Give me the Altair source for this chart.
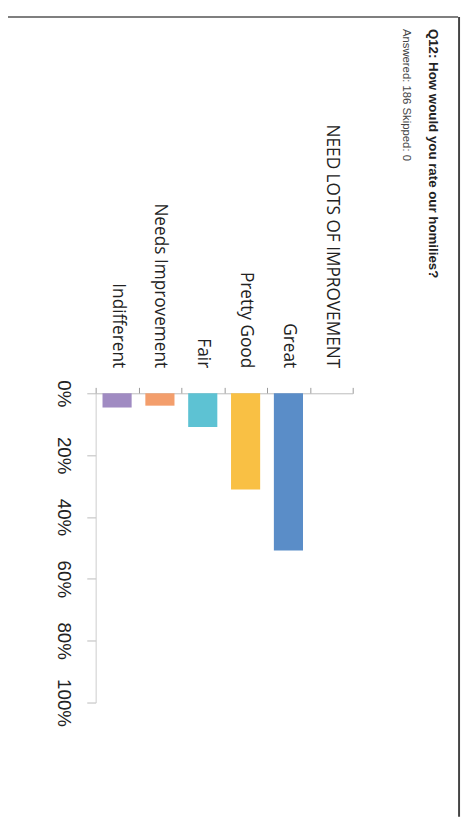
import altair as alt
import pandas as pd

# ---- data ----
categories = ["Indifferent", "Needs Improvement", "Fair", "Pretty Good", "Great",
              "NEED LOTS OF IMPROVEMENT"]
percents = [4.6, 4.0, 10.9, 31.1, 50.8, 0.0]
bar_colors = ["#a08bc2", "#f39e6c", "#5dc2d3", "#f9c044", "#5a8dc8", "#8cb36a"]
tick_values = [0, 20, 40, 60, 80, 100]
title_text = "Q12: How would you rate our homilies?"
subtitle_text = "Answered: 186   Skipped: 0"

df = pd.DataFrame({"category": categories, "percent": percents, "color": bar_colors})

bars = alt.Chart(df).mark_bar(width=alt.RelativeBandSize(0.68)).encode(
    x=alt.X(
        "category:N",
        sort=categories,
        scale=alt.Scale(paddingInner=0, paddingOuter=0),
        axis=alt.Axis(
            orient="top", title=None, labelAngle=90, labelAlign="right",
            labelBaseline="middle", labelFont="Open Sans", labelFontSize=17.5,
            labelColor="#222222", labelPadding=20, labelLimit=400,
            tickBand="extent", tickSize=6, tickColor="#999999",
            domainColor="#bbbbbb", grid=False,
        ),
    ),
    y=alt.Y(
        "percent:Q",
        scale=alt.Scale(domain=[0, 100], reverse=True, nice=False),
        axis=alt.Axis(
            values=tick_values, labelExpr="datum.value + '%'", title=None,
            labelAngle=90, labelAlign="center", labelBaseline="top",
            labelFont="Liberation Sans", labelFontSize=19, labelColor="#222222",
            labelPadding=15, tickSize=9, tickColor="#bbbbbb",
            domainColor="#cccccc", grid=False,
        ),
    ),
    color=alt.Color("color:N", scale=None, legend=None),
)

frame_df = pd.DataFrame({"k": [0]})
top_line = alt.Chart(frame_df).mark_rule(color="#555555", strokeWidth=1.5).encode(
    x=alt.value(-89), x2=alt.value(368), y=alt.value(-382)
)
right_line = alt.Chart(frame_df).mark_rule(color="#444444", strokeWidth=2).encode(
    x=alt.value(369), y=alt.value(-382), y2=alt.value(430)
)

chart = alt.layer(top_line, right_line, bars).properties(
    width=261,
    height=314,
    autosize=alt.AutoSizeParams(type="none"),
    padding={"left": 89, "top": 385, "right": 112, "bottom": 110},
    background="white",
    title=alt.TitleParams(
        text=title_text,
        subtitle=subtitle_text,
        orient="right",
        anchor="start",
        frame="group",
        dx=-370,
        offset=-60,
        font="Liberation Sans",
        fontSize=13.5,
        fontWeight="bold",
        color="#222222",
        subtitleFont="Liberation Sans",
        subtitleFontSize=11.5,
        subtitleColor="#444444",
        subtitlePadding=14,
    ),
).configure_view(stroke=None)

chart.save("out.html", embed_options={"renderer": "svg", "actions": False})
